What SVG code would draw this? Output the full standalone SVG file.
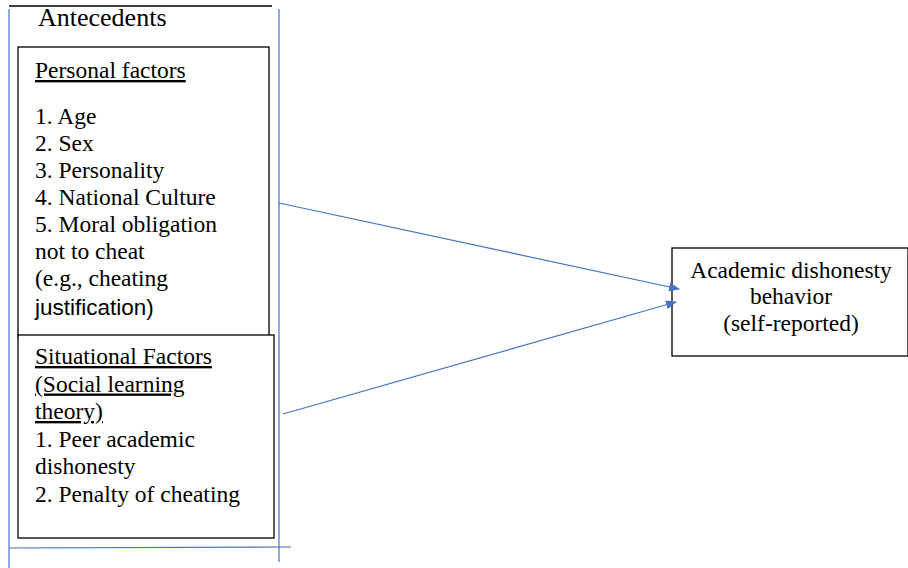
<svg xmlns="http://www.w3.org/2000/svg" width="908" height="568" viewBox="0 0 908 568">
<style>
text{font-family:"Liberation Serif","Times New Roman",serif;font-size:23.5px;fill:#000}
.box{fill:#fff;stroke:#000;stroke-width:1.3}
.blue{stroke:#4472c4;stroke-width:1.2;fill:none}
.u{text-decoration:underline}
.sans{font-family:"Liberation Sans",Arial,sans-serif;font-size:22.5px}
.c{text-anchor:middle}
</style>
<defs>
<marker id="ah" markerWidth="11" markerHeight="9" refX="10" refY="4.5" orient="auto" markerUnits="userSpaceOnUse">
<path d="M0,0 L11,4.5 L0,9 Z" fill="#4472c4"/>
</marker>
</defs>
<g id="antecedents">
<line x1="9" y1="6" x2="272" y2="6" stroke="#000" stroke-width="1.3"/>
<line class="blue" x1="9" y1="9" x2="9" y2="568"/>
<line class="blue" x1="279" y1="9" x2="279" y2="562"/>
<line class="blue" x1="9" y1="548" x2="291" y2="547"/>
<text x="38" y="26" style="font-size:26px">Antecedents</text>
</g>
<g id="personal">
<rect class="box" x="18" y="47" width="251" height="290"/>
<text x="35" y="78" class="u">Personal factors</text>
<text x="35" y="124">1. Age</text>
<text x="35" y="151">2. Sex</text>
<text x="35" y="178">3. Personality</text>
<text x="35" y="205">4. National Culture</text>
<text x="35" y="232">5. Moral obligation</text>
<text x="35" y="259">not to cheat</text>
<text x="35" y="286">(e.g., cheating</text>
<text x="35" y="315" class="sans">justification)</text>
</g>
<g id="situational">
<rect class="box" x="18" y="335" width="256" height="203"/>
<text x="35" y="364" class="u">Situational Factors</text>
<text x="35" y="391.5" class="u">(Social learning</text>
<text x="35" y="419" class="u">theory)</text>
<text x="35" y="446.5">1. Peer academic</text>
<text x="35" y="474">dishonesty</text>
<text x="35" y="501.5">2. Penalty of cheating</text>
</g>
<g id="outcome">
<rect class="box" x="672" y="248" width="236" height="108"/>
<text x="791" y="278" class="c">Academic dishonesty</text>
<text x="791" y="304" class="c">behavior</text>
<text x="791" y="331" class="c">(self-reported)</text>
</g>
<g id="connectors">
<line class="blue" x1="279" y1="203" x2="679" y2="289" marker-end="url(#ah)"/>
<line class="blue" x1="283" y1="414" x2="676" y2="302" marker-end="url(#ah)"/>
</g>
</svg>
